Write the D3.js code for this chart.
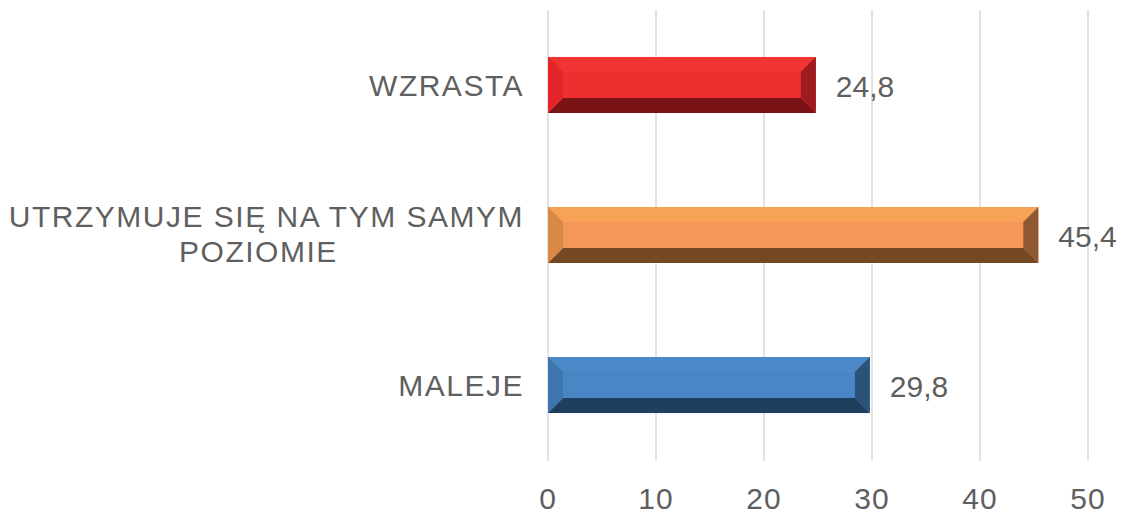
<!DOCTYPE html>
<html>
<head>
<meta charset="utf-8">
<script src="https://cdn.jsdelivr.net/npm/d3@7"></script>
<style>
  body { margin: 0; background: #fff; }
  text { font-family: "Liberation Sans", Arial, sans-serif; fill: #5f5f5f; }
</style>
</head>
<body>
<div id="chart"></div>
<script>
const svgWidth = 1129;
const svgHeight = 514;

// data
const categories = [['WZRASTA'], ['UTRZYMUJE SIĘ NA TYM SAMYM', 'POZIOMIE'], ['MALEJE']];
const values = [24.8, 45.4, 29.8];
const ticks = [0, 10, 20, 30, 40, 50];

// face, top, bottom, left, right bevel colours
const palettes = [
  { face: '#ee2f2f', top: '#f03434', bottom: '#7a1315', left: '#e4252a', right: '#9c1c1f' },
  { face: '#f59857', top: '#f6a257', bottom: '#754824', left: '#d88947', right: '#8e5831' },
  { face: '#4a86c5', top: '#4d89c8', bottom: '#1f3f5e', left: '#3d75ad', right: '#2c5279' }
];

let svg = d3.select('#chart')
  .append('svg')
  .attr('width', svgWidth)
  .attr('height', svgHeight);

let x = d3.scaleLinear()
  .domain([0, 50])
  .range([548, 1088]);

let y = d3.scaleBand()
  .domain(d3.range(values.length))
  .range([10, 460])
  .paddingInner(0.627)
  .paddingOuter(0.313);

// gridlines
svg.append('g').selectAll('line')
  .data(ticks)
  .enter()
  .append('line')
  .attr('x1', d => x(d)).attr('x2', d => x(d))
  .attr('y1', 10).attr('y2', 461)
  .attr('stroke', '#d9d9d9')
  .attr('stroke-width', 1.5);

// tick labels
svg.append('g').selectAll('text')
  .data(ticks)
  .enter()
  .append('text')
  .attr('x', d => x(d))
  .attr('y', 509)
  .attr('text-anchor', 'middle')
  .style('font-size', '30px')
  .style('letter-spacing', '1px')
  .text(d => d);

// bevelled bars
const b = 15;
let bars = svg.append('g').selectAll('g')
  .data(values)
  .enter()
  .append('g');

bars.each(function(v, i) {
  let g = d3.select(this);
  let p = palettes[i];
  let x0 = x(0), x1 = x(v), y0 = y(i), y1 = y(i) + y.bandwidth();
  g.append('rect')
    .attr('x', x0).attr('y', y0)
    .attr('width', x1 - x0).attr('height', y1 - y0)
    .attr('fill', p.face);
  let poly = (pts, c) => g.append('polygon')
    .attr('points', pts.map(q => q.join(',')).join(' '))
    .attr('fill', c);
  poly([[x0, y0], [x1, y0], [x1 - b, y0 + b], [x0 + b, y0 + b]], p.top);
  poly([[x0, y1], [x1, y1], [x1 - b, y1 - b], [x0 + b, y1 - b]], p.bottom);
  poly([[x0, y0], [x0 + b, y0 + b], [x0 + b, y1 - b], [x0, y1]], p.left);
  poly([[x1, y0], [x1 - b, y0 + b], [x1 - b, y1 - b], [x1, y1]], p.right);
});

// value labels
svg.append('g').selectAll('text')
  .data(values)
  .enter()
  .append('text')
  .attr('x', d => x(d) + 20)
  .attr('y', (d, i) => y(i) + y.bandwidth() / 2 + 12)
  .style('font-size', '30px')
  .text(d => String(d).replace('.', ','));

// category labels
const labelX = 524;
const spacing = 1.5;
categories.forEach((lines, i) => {
  let cy = y(i) + y.bandwidth() / 2;
  let label = (tx, ty, anchor, s) => svg.append('text')
    .attr('x', tx)
    .attr('y', ty)
    .attr('text-anchor', anchor)
    .style('font-size', '30px')
    .style('letter-spacing', spacing + 'px')
    .text(s);
  if (lines.length === 1) {
    label(labelX, cy + 11, 'end', lines[0]);
  } else {
    let first = label(labelX, cy - 8, 'end', lines[0]);
    let w = first.node().getComputedTextLength();
    label(labelX - w / 2 - 8, cy + 27, 'middle', lines[1]);
  }
});
</script>
</body>
</html>
